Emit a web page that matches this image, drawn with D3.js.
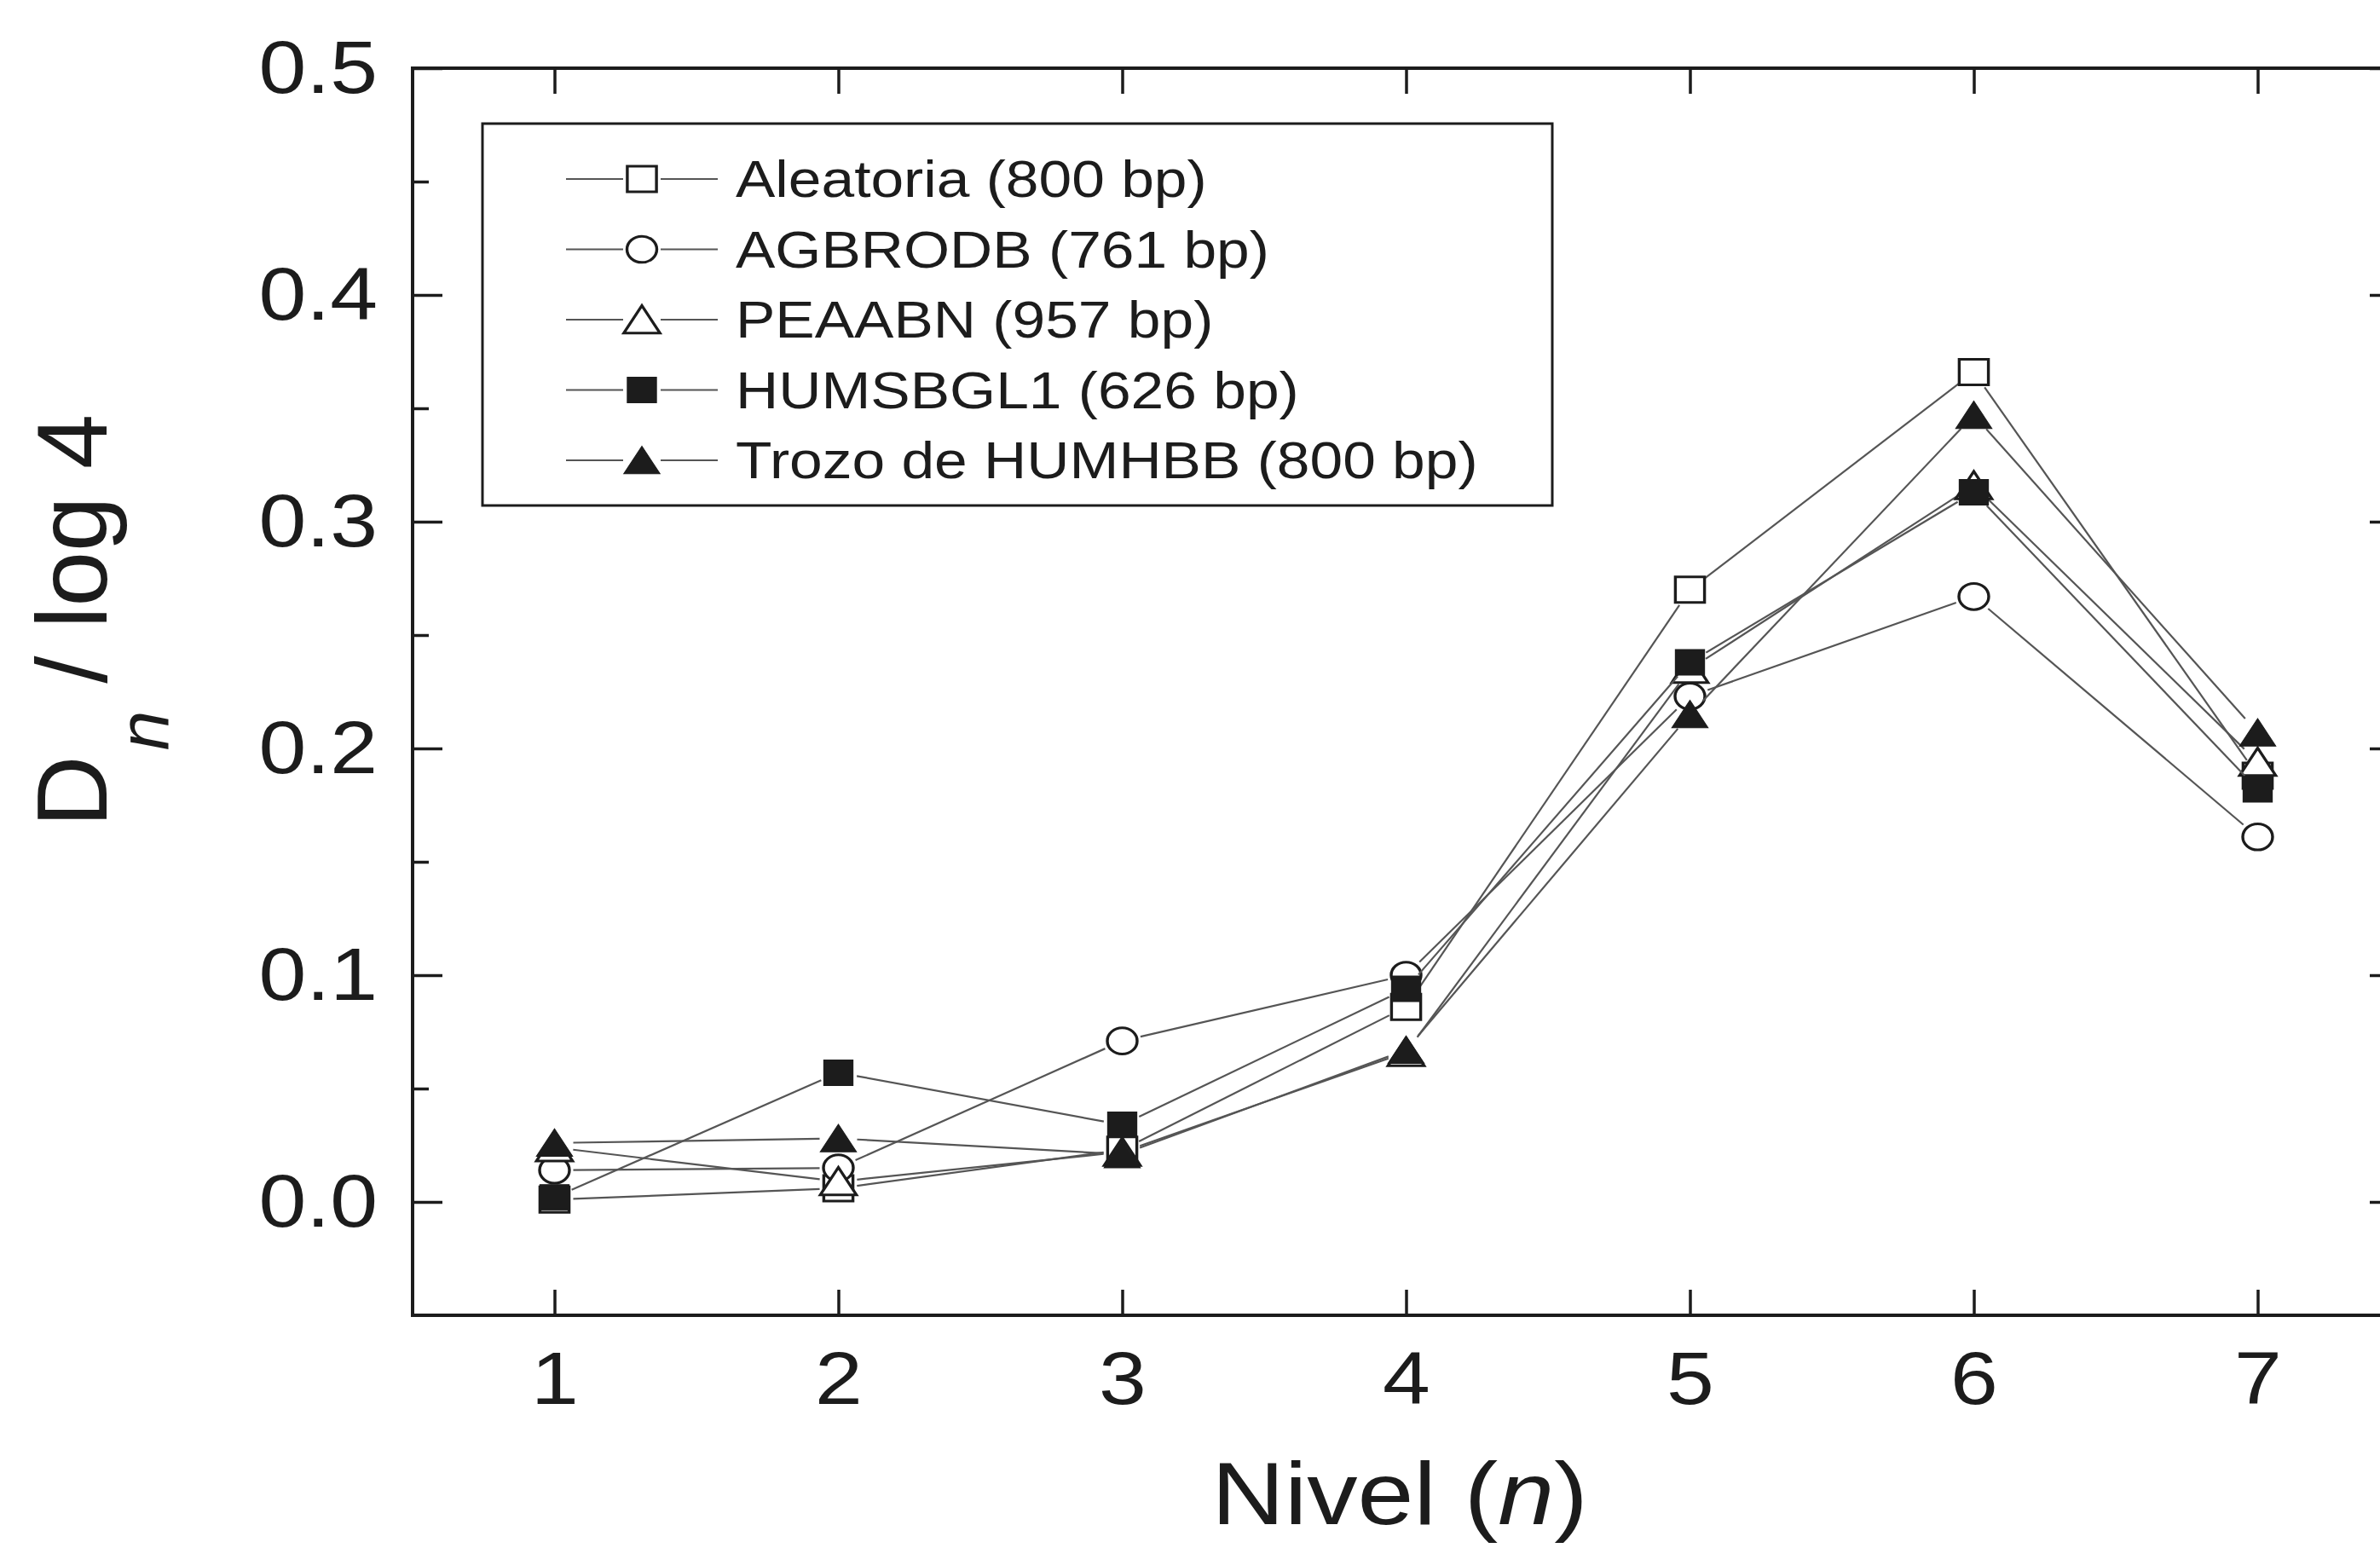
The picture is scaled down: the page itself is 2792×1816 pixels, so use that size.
<!DOCTYPE html>
<html>
<head>
<meta charset="utf-8">
<script src="https://cdn.jsdelivr.net/npm/d3@7"></script>
<style>
  html, body { margin: 0; padding: 0; background: #fff; overflow: hidden; }
  svg { display: block; }
</style>
</head>
<body>
<div id="chart"></div>
<script>
// data
var levels = [1, 2, 3, 4, 5, 6, 7];
var aleatoria = [0.001, 0.006, 0.023, 0.086, 0.270, 0.366, 0.188];
var agbrodb   = [0.014, 0.015, 0.071, 0.100, 0.223, 0.267, 0.161];
var peaabn    = [0.024, 0.009, 0.022, 0.066, 0.235, 0.316, 0.194];
var humsbgl1  = [0.002, 0.057, 0.034, 0.094, 0.238, 0.313, 0.182];
var humhbb    = [0.026, 0.028, 0.021, 0.067, 0.215, 0.347, 0.207];
var seriesNames = ["Aleatoria (800 bp)", "AGBRODB (761 bp)", "PEAABN (957 bp)",
                   "HUMSBGL1 (626 bp)", "Trozo de HUMHBB (800 bp)"];
var yTicks = [0.0, 0.1, 0.2, 0.3, 0.4, 0.5];
var yMinorTicks = [0.05, 0.15, 0.25, 0.35, 0.45];

var W = 2792, H = 1816;
var SX = 1.14;          // the scan is stretched sideways a bit
var ink = "#1c1c1c";
var lineCol = "#555";

var series = [
  {name: seriesNames[0], values: aleatoria, shape: d3.symbolSquare,   size: 900, filled: false},
  {name: seriesNames[1], values: agbrodb,   shape: d3.symbolCircle,   size: 740, filled: false},
  {name: seriesNames[2], values: peaabn,    shape: d3.symbolTriangle, size: 600, filled: false},
  {name: seriesNames[3], values: humsbgl1,  shape: d3.symbolSquare,   size: 900, filled: true},
  {name: seriesNames[4], values: humhbb,    shape: d3.symbolTriangle, size: 600, filled: true}
];

var svg = d3.select("#chart").append("svg")
    .attr("width", W)
    .attr("height", H)
    .style("font-family", "'Liberation Sans', Arial, sans-serif");

var x = d3.scaleLinear().domain([0.5, 7.5]).range([484, 2815]);
var y = d3.scaleLinear().domain([-0.05, 0.5]).range([1543, 80]);

var plotL = x.range()[0], plotR = x.range()[1];
var plotT = y.range()[1], plotB = y.range()[0];

function styleAxis(g) {
    g.select(".domain").remove();
    g.selectAll(".tick line").attr("stroke", ink).attr("stroke-width", 3.5);
    g.attr("font-family", "'Liberation Sans', Arial, sans-serif")
     .attr("font-size", 88);
    g.selectAll(".tick text").attr("fill", ink);
}

// bottom axis with labels
var gx = svg.append("g")
    .attr("transform", "translate(0," + plotB + ")")
    .call(d3.axisBottom(x).tickValues(levels).tickSize(-30).tickSizeOuter(0)
          .tickPadding(42).tickFormat(d3.format("d")))
    .call(styleAxis);
gx.selectAll(".tick text").attr("transform", "scale(" + SX + ",1)");

// top axis, ticks only
svg.append("g")
    .attr("transform", "translate(0," + plotT + ")")
    .call(d3.axisTop(x).tickValues(levels).tickSize(-30).tickSizeOuter(0).tickFormat(""))
    .call(styleAxis);

// left axis
var gy = svg.append("g")
    .attr("transform", "translate(" + plotL + ",0)")
    .call(d3.axisLeft(y).tickValues(yTicks).tickSize(-35).tickSizeOuter(0)
          .tickPadding(41).tickFormat(d3.format(".1f")))
    .call(styleAxis);
gy.selectAll(".tick text")
    .attr("x", -41 / SX)
    .attr("transform", "scale(" + SX + ",1)");

svg.append("g")
    .attr("transform", "translate(" + plotL + ",0)")
    .call(d3.axisLeft(y).tickValues(yMinorTicks).tickSize(-19).tickSizeOuter(0).tickFormat(""))
    .call(styleAxis);

// right axis, ticks only
svg.append("g")
    .attr("transform", "translate(" + plotR + ",0)")
    .call(d3.axisRight(y).tickValues(yTicks).tickSize(-35).tickSizeOuter(0).tickFormat(""))
    .call(styleAxis);
svg.append("g")
    .attr("transform", "translate(" + plotR + ",0)")
    .call(d3.axisRight(y).tickValues(yMinorTicks).tickSize(-19).tickSizeOuter(0).tickFormat(""))
    .call(styleAxis);

// frame
svg.append("rect")
    .attr("x", plotL).attr("y", plotT)
    .attr("width", plotR - plotL).attr("height", plotB - plotT)
    .attr("fill", "none").attr("stroke", ink).attr("stroke-width", 4);

// lines stop short of the symbols, like the original plot
var gap = 22;
function gapSegments(pts) {
    var segs = [];
    for (var i = 0; i < pts.length - 1; i++) {
        var a = pts[i], b = pts[i + 1];
        var dx = b[0] - a[0], dy = b[1] - a[1];
        var len = Math.sqrt(dx * dx + dy * dy);
        if (len <= 2 * gap) continue;
        var ux = dx / len, uy = dy / len;
        segs.push([[a[0] + ux * gap, a[1] + uy * gap], [b[0] - ux * gap, b[1] - uy * gap]]);
    }
    return segs;
}

var line = d3.line();

function drawSymbol(g, s, px, py) {
    var off = s.shape === d3.symbolTriangle ? 5 : 0;
    g.append("path")
        .attr("d", d3.symbol().type(s.shape).size(s.size)())
        .attr("transform", "translate(" + px + "," + (py + off) + ") scale(" + SX + ",1)")
        .attr("fill", s.filled ? ink : "#fff")
        .attr("stroke", ink)
        .attr("stroke-width", s.filled ? 1 : 3);
}

var plot = svg.append("g");
series.forEach(function (s) {
    var pts = levels.map(function (lv, i) { return [x(lv), y(s.values[i])]; });
    var g = plot.append("g");
    g.selectAll("path.seg")
        .data(gapSegments(pts))
        .enter().append("path")
        .attr("class", "seg")
        .attr("d", function (d) { return line(d); })
        .attr("fill", "none")
        .attr("stroke", lineCol)
        .attr("stroke-width", 2.2);
    pts.forEach(function (p) { drawSymbol(g, s, p[0], p[1]); });
});

// legend
var legX = 566, legY = 145, legW = 1255, legH = 448;
var rowTop = 210, rowH = 82.5;
var legend = svg.append("g");
legend.append("rect")
    .attr("x", legX).attr("y", legY)
    .attr("width", legW).attr("height", legH)
    .attr("fill", "#fff").attr("stroke", ink).attr("stroke-width", 3);

series.forEach(function (s, i) {
    var ry = rowTop + i * rowH;
    var sx = 753;
    legend.append("line")
        .attr("x1", 664).attr("x2", sx - gap).attr("y1", ry).attr("y2", ry)
        .attr("stroke", lineCol).attr("stroke-width", 2.2);
    legend.append("line")
        .attr("x1", sx + gap).attr("x2", 842).attr("y1", ry).attr("y2", ry)
        .attr("stroke", lineCol).attr("stroke-width", 2.2);
    drawSymbol(legend, s, sx, ry);
    legend.append("text")
        .attr("transform", "translate(863," + (ry + 21) + ") scale(" + SX + ",1)")
        .attr("font-size", 61)
        .attr("fill", ink)
        .text(s.name);
});

// axis titles
var yt = svg.append("text")
    .attr("transform", "translate(125,728) rotate(-90)")
    .attr("text-anchor", "middle")
    .attr("font-size", 116)
    .attr("fill", ink);
yt.append("tspan").text("D");
yt.append("tspan").attr("font-style", "italic").attr("font-size", 84)
    .attr("dx", 6).attr("dy", 72).text("n");
yt.append("tspan").attr("dy", -72).text(" / log 4");

var xt = svg.append("text")
    .attr("transform", "translate(1642,1788) scale(" + SX + ",1)")
    .attr("text-anchor", "middle")
    .attr("font-size", 104)
    .attr("fill", ink);
xt.append("tspan").text("Nivel (");
xt.append("tspan").attr("font-style", "italic").text("n");
xt.append("tspan").text(")");
</script>
</body>
</html>
